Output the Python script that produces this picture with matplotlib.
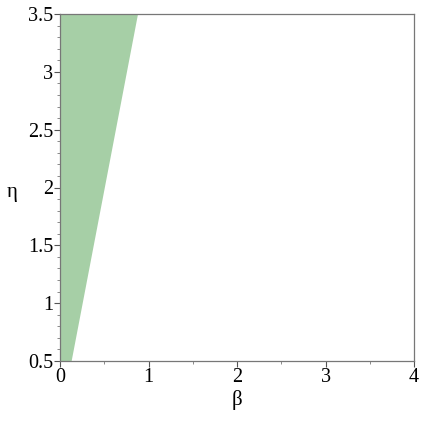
import numpy as np
import matplotlib
matplotlib.use("Agg")
import matplotlib.pyplot as plt
from matplotlib.ticker import MultipleLocator

# Region: beta < eta/4 (boundary points)
eta_vals = [0.5, 3.5]
beta_boundary = [0.125, 0.875]
x_ticks = [0, 1, 2, 3, 4]
y_ticks = [0.5, 1, 1.5, 2, 2.5, 3, 3.5]
y_tick_labels = ["0.5", "1", "1.5", "2", "2.5", "3", "3.5"]

plt.rcParams['font.family'] = ['Liberation Serif', 'DejaVu Serif']

fig = plt.figure(figsize=(4.21, 4.21), dpi=100)
ax = fig.add_axes([60/421, 60/421, 354/421, 347/421])

ax.fill_betweenx(eta_vals, [0, 0], beta_boundary, color='#a6cfa6', linewidth=0)

ax.set_xlim(0, 4)
ax.set_ylim(0.5, 3.5)
ax.set_xticks(x_ticks)
ax.set_xticklabels([str(v) for v in x_ticks])
ax.set_yticks(y_ticks)
ax.set_yticklabels(y_tick_labels)
ax.xaxis.set_minor_locator(MultipleLocator(0.5))
ax.yaxis.set_minor_locator(MultipleLocator(0.1))

for s in ax.spines.values():
    s.set_color('#777777')
    s.set_linewidth(0.9)
ax.tick_params(which='major', direction='out', length=4, width=0.8, color='#555555',
               labelsize=14.5, pad=1)
ax.tick_params(which='minor', direction='out', length=2.5, width=0.6, color='#777777')

ax.set_xlabel('β', fontsize=15, labelpad=2)
ax.set_ylabel('η', fontsize=15, rotation=0, va='center')
ax.yaxis.set_label_coords(-0.135, 0.485)

fig.savefig('out.png', dpi=100)
